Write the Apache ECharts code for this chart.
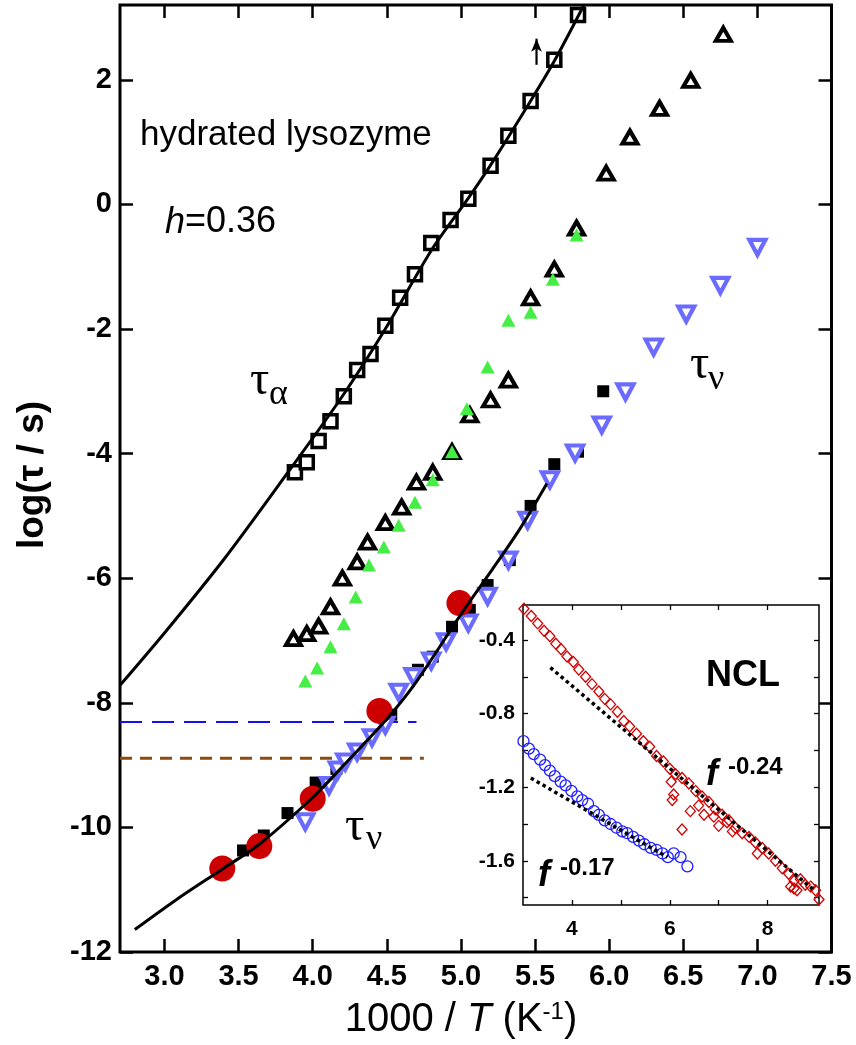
<!DOCTYPE html>
<html>
<head>
<meta charset="utf-8">
<script src="https://cdn.jsdelivr.net/npm/echarts@6.0.0/dist/echarts.min.js"></script>
<style>
	html, body { margin: 0; padding: 0; background: #fff; }
	#chart { width: 856px; height: 1045px; }
</style>
</head>
<body>
<div id="chart"></div>
<script>
const FONT = '"Liberation Sans", Arial, Helvetica, sans-serif'
const SERIF = '"Liberation Serif", "DejaVu Serif", serif'

// tick positions
const mainXTicks = [3.0, 3.5, 4.0, 4.5, 5.0, 5.5, 6.0, 6.5, 7.0, 7.5]
const mainYTicks = [-12, -10, -8, -6, -4, -2, 0, 2]
const insetXTicks = [4, 5, 6, 7, 8]
const insetXLabels = [4, 6, 8]
const insetYTicks = [-1.8, -1.6, -1.4, -1.2, -1.0, -0.8, -0.6, -0.4]
const insetYLabels = [-1.6, -1.2, -0.8, -0.4]

// tau_alpha, open squares + fit
const tauAlphaPoints = [[3.88,-4.30],[3.96,-4.14],[4.04,-3.80],[4.12,-3.48],[4.21,-3.08],[4.30,-2.66],[4.39,-2.40],[4.49,-1.95],[4.59,-1.50],[4.69,-1.12],[4.80,-0.62],[4.93,-0.25],[5.05,0.09],[5.20,0.62],[5.32,1.10],[5.47,1.66],[5.63,2.32],[5.79,3.04]]
const tauAlphaFit = [[2.70,-7.72],[3.00,-6.88],[3.40,-5.70],[3.83,-4.31],[4.20,-3.08],[4.50,-1.96],[4.80,-0.74],[5.05,0.10],[5.20,0.63],[5.47,1.66],[5.63,2.30],[5.83,3.20]]

// open black triangles and green filled triangles
const openTriangles = [[3.87,-6.97],[3.96,-6.89],[4.04,-6.77],[4.12,-6.46],[4.20,-6.00],[4.30,-5.74],[4.37,-5.42],[4.49,-5.11],[4.60,-4.86],[4.70,-4.46],[4.81,-4.30],[4.94,-3.97],[5.06,-3.38],[5.20,-3.14],[5.32,-2.82],[5.47,-1.50],[5.63,-1.04],[5.78,-0.38],[5.98,0.50],[6.14,1.08],[6.34,1.54],[6.55,1.99],[6.77,2.73]]
const greenTriangles = [[3.95,-7.65],[4.03,-7.44],[4.12,-7.10],[4.21,-6.73],[4.29,-6.30],[4.38,-5.79],[4.48,-5.50],[4.58,-5.15],[4.69,-4.78],[4.81,-4.42],[4.94,-3.97],[5.04,-3.28],[5.18,-2.61],[5.32,-1.86],[5.47,-1.73],[5.62,-1.20],[5.78,-0.49]]

// tau_nu
const nuSquares = [[3.53,-10.37],[3.67,-10.13],[3.83,-9.77],[4.02,-9.28],[4.16,-9.06],[4.53,-8.19],[4.71,-7.47],[4.81,-7.26],[4.94,-6.78],[5.06,-6.51],[5.18,-6.11],[5.33,-5.71],[5.47,-4.84],[5.63,-4.17],[5.79,-3.97],[5.96,-3.00]]
const nuCircles = [[3.39,-10.66],[3.64,-10.30],[4.00,-9.54],[4.45,-8.13],[4.99,-6.40]]
const nuDownTriangles = [[3.95,-9.91],[4.11,-9.33],[4.17,-9.08],[4.22,-8.95],[4.30,-8.79],[4.40,-8.56],[4.49,-8.36],[4.58,-7.83],[4.68,-7.58],[4.80,-7.33],[4.90,-7.02],[5.05,-6.72],[5.18,-6.29],[5.32,-5.71],[5.45,-5.07],[5.60,-4.42],[5.77,-3.99],[5.95,-3.54],[6.11,-3.01],[6.30,-2.29],[6.52,-1.76],[6.75,-1.30],[7.00,-0.69]]
const tauNuFit = [[2.80,-11.64],[3.08,-11.16],[3.39,-10.67],[3.64,-10.27],[4.00,-9.52],[4.21,-9.00],[4.50,-8.26],[4.70,-7.66],[5.00,-6.58],[5.20,-5.90],[5.40,-5.20],[5.58,-4.48]]

const blueCut = [[2.70,-8.31],[4.70,-8.31]]
const brownCut = [[2.70,-8.89],[4.75,-8.89]]
const arrowMark = [[5.51,2.24],[5.51,2.66]]

// inset: NCL
const nclDiamonds = [[3.02,-0.23],[3.17,-0.27],[3.30,-0.31],[3.43,-0.35],[3.55,-0.38],[3.67,-0.42],[3.78,-0.45],[3.90,-0.49],[4.03,-0.52],[4.14,-0.56],[4.28,-0.60],[4.41,-0.64],[4.55,-0.68],[4.67,-0.72],[4.79,-0.75],[4.93,-0.79],[5.06,-0.84],[5.18,-0.87],[5.32,-0.91],[5.46,-0.95],[5.59,-0.98],[5.73,-1.03],[5.87,-1.06],[6.00,-1.10],[6.12,-1.13],[6.25,-1.15],[6.39,-1.18],[6.53,-1.22],[6.66,-1.25],[6.80,-1.28],[6.93,-1.32],[7.07,-1.35],[7.21,-1.38],[7.34,-1.42],[7.48,-1.45],[7.62,-1.47],[7.75,-1.50],[7.89,-1.53],[8.02,-1.56],[8.16,-1.60],[8.30,-1.64],[8.43,-1.67],[8.54,-1.71],[8.67,-1.70],[8.77,-1.73],[8.88,-1.74],[8.98,-1.76],[9.05,-1.81],[6.03,-1.17],[6.08,-1.24],[6.05,-1.27],[6.25,-1.43],[6.42,-1.33],[6.59,-1.30],[6.70,-1.35],[6.90,-1.36],[7.00,-1.41],[7.17,-1.39],[7.28,-1.44],[7.79,-1.56],[8.47,-1.74],[8.54,-1.75],[8.60,-1.76]]
const nclCircles = [[3.01,-0.95],[3.12,-0.99],[3.22,-1.02],[3.35,-1.05],[3.45,-1.08],[3.55,-1.11],[3.65,-1.14],[3.77,-1.17],[3.87,-1.19],[3.99,-1.22],[4.11,-1.25],[4.21,-1.27],[4.33,-1.29],[4.45,-1.33],[4.55,-1.35],[4.67,-1.38],[4.79,-1.40],[4.91,-1.42],[5.03,-1.44],[5.13,-1.45],[5.25,-1.47],[5.37,-1.49],[5.48,-1.51],[5.61,-1.53],[5.73,-1.54],[5.85,-1.56],[5.96,-1.58],[6.08,-1.56],[6.22,-1.58],[6.36,-1.63]]
const fitSteep = [[3.56,-0.55],[8.95,-1.76]]
const fitShallow = [[3.16,-1.15],[5.95,-1.58]]

const chartDom = document.getElementById('chart')
const myChart = echarts.init(chartDom)

function tickStyle(len, width, values) {
	return { show: true, inside: true, length: len, customValues: values, lineStyle: { color: '#000', width: width } }
}

const noLine = { show: false, onZero: false }

const mainLabel = {
	color: '#000',
	fontFamily: FONT,
	fontWeight: 'bold',
	fontSize: 29,
}
const insetLabel = {
	color: '#000',
	fontFamily: FONT,
	fontWeight: 'bold',
	fontSize: 21,
}

function txt(text, x, y, font, extra) {
	return Object.assign({
		type: 'text',
		x: x,
		y: y,
		z: 50,
		silent: true,
		style: Object.assign({
			text: text,
			fill: '#000',
			textAlign: 'left',
			textVerticalAlign: 'middle',
		}, font),
	}, extra || {})
}

const option = {
	animation: false,
	backgroundColor: '#fff',
	grid: [
		{ left: 120, right: 24.5, top: 5, bottom: 93, show: true, borderColor: '#000', borderWidth: 3, backgroundColor: 'transparent', z: 2 },
		{ left: 523, right: 37, top: 605, bottom: 140, show: true, borderColor: '#000', borderWidth: 1.5, backgroundColor: '#fff', z: 10 },
	],
	xAxis: [
		{
			gridIndex: 0, type: 'value', position: 'bottom', min: 2.7, max: 7.5,
			axisLine: noLine, splitLine: { show: false },
			axisTick: tickStyle(13, 2.5, mainXTicks),
			axisLabel: Object.assign({ customValues: mainXTicks, margin: 10, formatter: v => v.toFixed(1) }, mainLabel),
		},
		{
			gridIndex: 0, type: 'value', position: 'top', min: 2.7, max: 7.5,
			axisLine: noLine, splitLine: { show: false },
			axisTick: tickStyle(13, 2.5, mainXTicks),
			axisLabel: { show: false },
		},
		{
			gridIndex: 1, type: 'value', position: 'bottom', min: 3, max: 9.05, z: 11,
			axisLine: noLine, splitLine: { show: false },
			axisTick: tickStyle(5, 1.3, insetXTicks),
			axisLabel: Object.assign({ customValues: insetXLabels, margin: 14 }, insetLabel),
		},
		{
			gridIndex: 1, type: 'value', position: 'top', min: 3, max: 9.05, z: 11,
			axisLine: noLine, splitLine: { show: false },
			axisTick: tickStyle(5, 1.3, insetXTicks),
			axisLabel: { show: false },
		},
	],
	yAxis: [
		{
			gridIndex: 0, type: 'value', position: 'left', min: -12, max: 3.2,
			axisLine: noLine, splitLine: { show: false },
			axisTick: tickStyle(13, 2.5, mainYTicks),
			axisLabel: Object.assign({ customValues: mainYTicks, margin: 8 }, mainLabel),
		},
		{
			gridIndex: 0, type: 'value', position: 'right', min: -12, max: 3.2,
			axisLine: noLine, splitLine: { show: false },
			axisTick: tickStyle(13, 2.5, mainYTicks),
			axisLabel: { show: false },
		},
		{
			gridIndex: 1, type: 'value', position: 'left', min: -1.84, max: -0.21, z: 11,
			axisLine: noLine, splitLine: { show: false },
			axisTick: tickStyle(5, 1.3, insetYTicks),
			axisLabel: Object.assign({ customValues: insetYLabels, margin: 8, formatter: v => v.toFixed(1) }, insetLabel),
		},
		{
			gridIndex: 1, type: 'value', position: 'right', min: -1.84, max: -0.21, z: 11,
			axisLine: noLine, splitLine: { show: false },
			axisTick: tickStyle(5, 1.3, insetYTicks),
			axisLabel: { show: false },
		},
	],
	series: [
		// main panel
		{
			name: 'tau alpha', type: 'scatter', data: tauAlphaPoints, z: 3,
			symbol: 'rect', symbolSize: 13,
			itemStyle: { color: '#fff', borderColor: '#000', borderWidth: 3.5, opacity: 1 },
		},
		{
			name: 'tau alpha fit', type: 'line', data: tauAlphaFit, z: 6,
			smooth: 0.3, showSymbol: false,
			lineStyle: { color: '#000', width: 3 },
		},
		{
			name: 'arrow', type: 'line', z: 6,
			data: [
				{ value: arrowMark[0], symbol: 'none' },
				{ value: arrowMark[1], symbol: 'arrow', symbolSize: [8, 13] },
			],
			showSymbol: true,
			itemStyle: { color: '#000', opacity: 1 },
			lineStyle: { color: '#000', width: 2.2 },
		},
		{
			name: 'open triangles', type: 'scatter', data: openTriangles, z: 3,
			symbol: 'triangle', symbolSize: [15, 13],
			itemStyle: { color: '#fff', borderColor: '#000', borderWidth: 4, borderJoin: 'miter', opacity: 1 },
		},
		{
			name: 'green triangles', type: 'scatter', data: greenTriangles, z: 4,
			symbol: 'triangle', symbolSize: [14, 13],
			itemStyle: { color: '#44ee44', opacity: 1 },
		},
		{
			name: 'nu squares', type: 'scatter', data: nuSquares, z: 3,
			symbol: 'rect', symbolSize: 12,
			itemStyle: { color: '#000', opacity: 1 },
		},
		{
			name: 'nu down triangles', type: 'scatter', data: nuDownTriangles, z: 4,
			symbol: 'triangle', symbolRotate: 180, symbolSize: [16, 15],
			itemStyle: { color: '#fff', borderColor: '#6b6bff', borderWidth: 4.2, borderJoin: 'miter', opacity: 1 },
		},
		{
			name: 'nu circles', type: 'scatter', data: nuCircles, z: 5,
			symbol: 'circle', symbolSize: 26,
			itemStyle: { color: '#cc0000', opacity: 1 },
		},
		{
			name: 'tau nu fit', type: 'line', data: tauNuFit, z: 6,
			smooth: 0.3, showSymbol: false,
			lineStyle: { color: '#000', width: 3 },
		},
		{
			name: 'blue level', type: 'line', data: blueCut, z: 2, showSymbol: false,
			lineStyle: { color: '#1010f0', width: 2, type: [22, 10] },
		},
		{
			name: 'brown level', type: 'line', data: brownCut, z: 2, showSymbol: false,
			lineStyle: { color: '#8b4c12', width: 3, type: [12, 8] },
		},
		// inset
		{
			name: 'NCL diamonds', type: 'scatter', data: nclDiamonds, xAxisIndex: 2, yAxisIndex: 2, z: 12,
			symbol: 'diamond', symbolSize: [10, 11],
			itemStyle: { color: 'rgba(255,255,255,0)', borderColor: '#d00000', borderWidth: 1.3, opacity: 1 },
		},
		{
			name: 'NCL circles', type: 'scatter', data: nclCircles, xAxisIndex: 2, yAxisIndex: 2, z: 12,
			symbol: 'circle', symbolSize: 11,
			itemStyle: { color: 'rgba(255,255,255,0)', borderColor: '#1f1fff', borderWidth: 1.3, opacity: 1 },
		},
		{
			name: 'f -0.24', type: 'line', data: fitSteep, xAxisIndex: 2, yAxisIndex: 2, z: 13, showSymbol: false,
			lineStyle: { color: '#000', width: 3.5, type: [3.5, 3.3] },
		},
		{
			name: 'f -0.17', type: 'line', data: fitShallow, xAxisIndex: 2, yAxisIndex: 2, z: 13, showSymbol: false,
			lineStyle: { color: '#000', width: 3.5, type: [3.5, 3.3] },
		},
	],
	graphic: [
		txt('hydrated lysozyme', 140, 135.5, { fontFamily: FONT, fontSize: 35 }),
		txt('{i|h}{n|=0.36}', 165, 222.5, {
			rich: {
				i: { fontFamily: FONT, fontSize: 36, fontStyle: 'italic', fill: '#000' },
				n: { fontFamily: FONT, fontSize: 36, fill: '#000' },
			},
		}),
		txt('τ', 250, 381.5, { fontFamily: SERIF, fontSize: 48 }),
		txt('α', 269, 395, { fontFamily: SERIF, fontSize: 36 }),
		txt('τ', 345, 827.5, { fontFamily: SERIF, fontSize: 48 }),
		txt('ν', 366, 840, { fontFamily: SERIF, fontSize: 36 }),
		txt('τ', 690, 365, { fontFamily: SERIF, fontSize: 48 }),
		txt('ν', 708, 380, { fontFamily: SERIF, fontSize: 36 }),
		txt('NCL', 706, 676, { fontFamily: FONT, fontSize: 36, fontWeight: 'bold' }),
		txt('f', 706, 775.5, { fontFamily: FONT, fontSize: 36, fontWeight: 'bold', fontStyle: 'italic' }),
		txt('-0.24', 728, 767.5, { fontFamily: FONT, fontSize: 24, fontWeight: 'bold' }),
		txt('f', 538, 876.5, { fontFamily: FONT, fontSize: 36, fontWeight: 'bold', fontStyle: 'italic' }),
		txt('-0.17', 560, 868.5, { fontFamily: FONT, fontSize: 24, fontWeight: 'bold' }),
		txt('log(τ / s)', 33, 475, { fontFamily: FONT, fontSize: 37, fontWeight: 'bold', textAlign: 'center' }, { rotation: Math.PI / 2 }),
		txt('{n|1000 / }{i|T}{n| (K}{s|-1}{n|)}', 461, 1020, {
			textAlign: 'center',
			rich: {
				n: { fontFamily: FONT, fontSize: 40, fill: '#000' },
				i: { fontFamily: FONT, fontSize: 40, fontStyle: 'italic', fill: '#000' },
				s: { fontFamily: FONT, fontSize: 24, fill: '#000', verticalAlign: 'top' },
			},
		}),
	],
}

myChart.setOption(option)
</script>
</body>
</html>
